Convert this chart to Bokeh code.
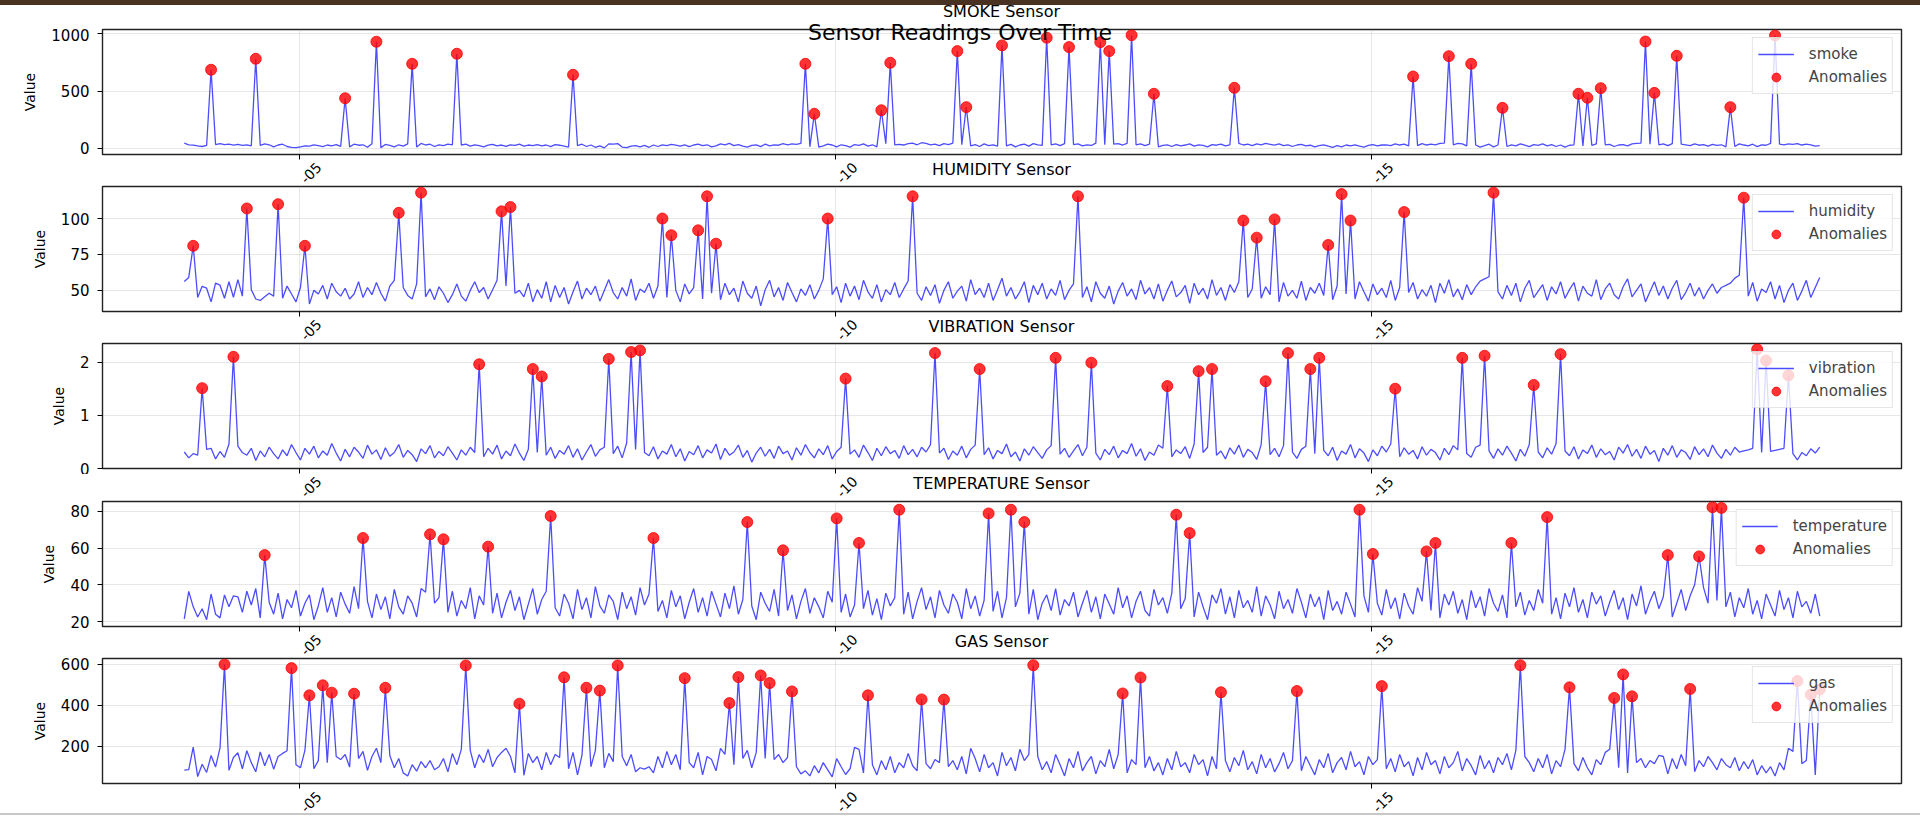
import pandas as pd
from bokeh.embed import file_html
from bokeh.layouts import column
from bokeh.models import ColumnDataSource, Div, FixedTicker, Legend, LegendItem, Range1d
from bokeh.plotting import figure
from bokeh.resources import INLINE

# hourly readings
START = "2024-01-03 22:15"
N_READINGS = 367

SMOKE = [
    45, 30, 27, 20, 15, 24, 686, 32, 40, 31, 35, 27, 33, 24, 30, 21, 782, 25, 38, 30,
    12, 28, 35, 15, 8, 5, 12, 20, 18, 30, 22, 14, 28, 20, 32, 16, 437, 12, 35, 26,
    30, 8, 40, 931, 5, 33, 25, 12, 30, 18, 38, 738, 10, 42, 28, 35, 15, 30, 22, 36,
    30, 826, 28, 35, 18, 30, 22, 12, 26, 34, 20, 28, 16, 30, 24, 35, 18, 28, 22, 32,
    20, 28, 14, 32, 26, 18, 10, 642, 22, 35, 15, 28, 8, 20, 3, 38, 36, 40, 10, 5,
    18, 22, 12, 25, 8, 28, 15, 30, 22, 34, 26, 18, 30, 14, 28, 36, 22, 30, 12, 20,
    38, 30, 42, 22, 32, 18, 10, 24, 30, 14, 36, 20, 30, 26, 40, 30, 38, 34, 42, 738,
    12, 301, 10, 20, 35, 28, 12, 30, 22, 10, 32, 25, 38, 18, 30, 12, 332, 40, 747, 30,
    34, 28, 40, 45, 30, 48, 42, 30, 36, 22, 40, 32, 45, 849, 30, 359, 20, 32, 15, 38,
    22, 30, 18, 899, 20, 34, 12, 28, 36, 18, 40, 30, 25, 966, 30, 38, 22, 40, 884, 32,
    38, 20, 30, 24, 44, 927, 30, 849, 35, 40, 28, 42, 988, 30, 38, 22, 35, 476, 12, 25,
    30, 15, 32, 20, 28, 38, 18, 30, 24, 12, 32, 26, 36, 20, 30, 528, 42, 28, 35, 22,
    38, 30, 42, 34, 26, 38, 22, 30, 15, 28, 34, 20, 26, 12, 22, 30, 18, 8, 22, 12,
    28, 20, 30, 18, 10, 24, 32, 20, 28, 30, 22, 38, 28, 35, 20, 627, 22, 40, 28, 35,
    30, 42, 45, 805, 30, 42, 38, 20, 738, 28, 10, 22, 35, 12, 28, 353, 15, 30, 20, 38,
    26, 14, 32, 25, 38, 20, 32, 15, 28, 10, 26, 30, 476, 20, 441, 25, 38, 525, 30, 34,
    15, 28, 32, 20, 38, 42, 45, 933, 35, 484, 30, 38, 22, 40, 808, 35, 30, 22, 38, 26,
    32, 18, 34, 25, 30, 12, 359, 15, 38, 28, 20, 35, 14, 30, 26, 42, 986, 35, 30, 38,
    34, 40, 28, 36, 30, 18, 22,
]

HUMIDITY = [
    56.2, 59.0, 81.0, 45.0, 52.8, 51.5, 42.0, 55.0, 53.6, 44.5, 56.0, 45.2, 57.5, 46.0, 107.0, 50.5, 44.0, 43.0, 45.5, 48.0,
    46.0, 110.0, 44.5, 53.0, 47.5, 42.0, 52.0, 81.0, 40.5, 50.0, 47.5, 53.5, 44.0, 55.0, 49.0, 46.0, 51.5, 44.0, 47.5, 56.0,
    45.0, 52.0, 47.0, 55.5, 48.0, 42.5, 53.0, 57.0, 104.0, 52.0, 46.5, 44.0, 54.5, 118.0, 45.5, 51.0, 43.5, 52.5, 48.0, 41.5,
    47.0, 54.5, 46.0, 42.5, 50.0, 56.0, 48.5, 52.0, 44.0, 50.5, 57.0, 105.0, 53.0, 108.0, 48.0, 50.0, 45.5, 55.0, 42.0, 50.5,
    44.5, 56.0, 42.0, 53.5, 45.0, 52.0, 40.5, 49.0, 56.5, 44.0, 51.5, 47.0, 53.0, 42.5, 50.0, 57.5, 48.5, 44.0, 52.0, 46.0,
    58.0, 43.0, 51.0, 48.5, 55.0, 44.5, 53.0, 100.0, 45.0, 88.4, 50.0, 42.0, 54.5, 47.5, 52.0, 91.8, 44.0, 115.5, 48.0, 82.5,
    43.5, 55.0, 47.0, 51.5, 42.0, 56.5, 48.0, 44.5, 53.0, 39.2, 50.5, 57.0, 45.5, 52.0, 43.0, 55.5, 48.5, 42.0, 51.0, 46.5,
    54.0, 44.0, 50.0, 58.0, 100.0, 47.0, 52.5, 41.5, 55.0, 46.0, 53.0, 43.5, 57.0, 49.0, 44.5, 54.0, 42.0, 50.5, 47.0, 55.5,
    45.0, 51.0, 56.5, 115.5, 48.0, 43.0, 52.5, 46.5, 54.0, 41.0, 50.0, 56.0, 44.5, 49.5, 53.0, 42.5, 57.5, 47.0, 51.5, 45.0,
    55.0, 43.0, 50.5, 58.5, 46.0, 52.0, 44.0, 49.0, 56.0, 41.5, 53.5, 47.0, 55.0, 44.0, 51.0, 46.5, 57.0, 43.5, 50.0, 54.5,
    115.5, 45.0, 52.5, 42.0, 56.0, 48.0, 44.5, 53.0, 40.5, 49.5, 55.5, 46.0, 51.0, 43.5, 57.0, 47.5, 52.0, 44.0, 54.5, 42.5,
    50.0, 56.5, 45.5, 48.5, 53.5, 41.0, 55.0, 47.0, 51.5, 44.0, 57.5, 46.5, 52.0, 43.0, 54.0, 48.5, 56.0, 98.6, 45.0, 51.0,
    86.7, 44.5, 52.5, 47.0, 99.4, 42.0, 55.5, 46.0, 50.0, 44.5, 56.5, 43.0, 52.0, 48.0, 55.0, 46.5, 81.6, 43.5, 53.0, 117.0,
    47.5, 98.6, 44.0, 56.0, 49.0, 42.5, 54.5, 47.0, 51.5, 45.0, 57.0, 43.0, 52.0, 104.5, 48.5, 55.5, 44.0, 50.5, 46.0, 53.5,
    41.5, 55.0, 48.0, 57.5, 45.5, 51.0, 43.5, 54.0, 47.0, 52.5, 56.5, 58.0, 59.5, 118.0, 49.0, 44.0, 53.5, 46.5, 55.0, 42.0,
    51.5, 57.0, 45.0, 49.5, 54.0, 43.0, 52.5, 47.5, 56.0, 44.5, 50.5, 55.5, 42.5, 53.0, 48.0, 46.0, 57.5, 43.5, 51.0, 55.0,
    47.0, 44.0, 52.5, 58.0, 45.5, 50.0, 54.5, 42.0, 49.0, 56.0, 46.5, 53.0, 44.0, 51.5, 57.0, 43.5, 48.5, 55.0, 46.0, 52.0,
    44.0, 50.0, 54.5, 48.0, 52.0, 53.5, 55.0, 58.5, 60.5, 114.5, 46.0, 55.5, 42.5, 51.0, 48.5, 56.0, 44.0, 53.5, 41.5, 50.0,
    55.0, 43.0, 49.5, 57.0, 45.0, 52.0, 59.0,
]

VIBRATION = [
    0.31, 0.20, 0.28, 0.25, 1.51, 0.36, 0.38, 0.18, 0.32, 0.21, 0.46, 2.10, 0.42, 0.30, 0.25, 0.38, 0.15, 0.33, 0.22, 0.40,
    0.28, 0.18, 0.35, 0.24, 0.45, 0.30, 0.16, 0.38, 0.27, 0.42, 0.20, 0.33, 0.25, 0.47, 0.29, 0.14, 0.36, 0.22, 0.40, 0.31,
    0.19, 0.44, 0.27, 0.35, 0.17, 0.39, 0.23, 0.30, 0.45, 0.21, 0.34, 0.26, 0.13, 0.37, 0.28, 0.43, 0.20, 0.32, 0.24, 0.41,
    0.29, 0.16, 0.35, 0.25, 0.40, 0.30, 1.96, 0.22, 0.38, 0.27, 0.44, 0.18, 0.33, 0.24, 0.46, 0.29, 0.15, 0.36, 1.87, 0.30,
    1.73, 0.25, 0.40, 0.19, 0.34, 0.27, 0.43, 0.21, 0.37, 0.16, 0.31, 0.45, 0.23, 0.35, 0.40, 2.06, 0.28, 0.42, 0.20, 0.48,
    2.19, 0.36, 2.22, 0.30, 0.24, 0.41, 0.18, 0.33, 0.27, 0.45, 0.22, 0.37, 0.14, 0.32, 0.26, 0.43, 0.20, 0.35, 0.29, 0.46,
    0.17, 0.38, 0.25, 0.31, 0.44, 0.21, 0.34, 0.12, 0.29, 0.40, 0.23, 0.36, 0.19, 0.42, 0.28, 0.33, 0.16, 0.39, 0.25, 0.45,
    0.30, 0.20, 0.37, 0.26, 0.43, 0.18, 0.32, 0.40, 1.69, 0.27, 0.35, 0.21, 0.44, 0.30, 0.15, 0.38, 0.24, 0.41, 0.28, 0.34,
    0.19, 0.43, 0.26, 0.36, 0.22, 0.40, 0.31, 0.45, 2.17, 0.29, 0.38, 0.17, 0.33, 0.25, 0.42, 0.20, 0.36, 0.44, 1.87, 0.26,
    0.39, 0.18, 0.34, 0.28, 0.46, 0.22, 0.31, 0.14, 0.37, 0.25, 0.41, 0.30, 0.19, 0.35, 0.43, 2.08, 0.27, 0.38, 0.21, 0.33,
    0.45, 0.24, 0.40, 1.99, 0.29, 0.16, 0.36, 0.26, 0.42, 0.20, 0.34, 0.28, 0.47, 0.23, 0.37, 0.15, 0.31, 0.25, 0.44, 0.38,
    1.55, 0.22, 0.35, 0.28, 0.41, 0.19, 0.46, 1.83, 0.30, 0.40, 1.87, 0.25, 0.33, 0.18, 0.39, 0.27, 0.44, 0.21, 0.36, 0.30,
    0.17, 0.45, 1.64, 0.26, 0.38, 0.22, 0.43, 2.17, 0.31, 0.19, 0.36, 0.42, 1.87, 0.28, 2.08, 0.34, 0.24, 0.40, 0.15, 0.33,
    0.27, 0.45, 0.20, 0.37, 0.29, 0.13, 0.35, 0.24, 0.42, 0.31, 0.46, 1.50, 0.22, 0.39, 0.27, 0.34, 0.18, 0.41, 0.25, 0.36,
    0.30, 0.16, 0.38, 0.26, 0.43, 0.35, 2.08, 0.28, 0.21, 0.40, 0.44, 2.12, 0.33, 0.19, 0.37, 0.25, 0.42, 0.29, 0.14, 0.36,
    0.23, 0.45, 1.57, 0.31, 0.20, 0.39, 0.27, 0.47, 2.15, 0.33, 0.24, 0.41, 0.18, 0.35, 0.28, 0.44, 0.21, 0.37, 0.26, 0.32,
    0.16, 0.40, 0.29, 0.45, 0.23, 0.36, 0.19, 0.42, 0.27, 0.34, 0.13, 0.38, 0.25, 0.43, 0.21, 0.35, 0.30, 0.17, 0.41, 0.26,
    0.37, 0.22, 0.44, 0.29, 0.19, 0.36, 0.25, 0.40, 0.31, 0.33, 0.35, 0.38, 2.24, 0.30, 2.03, 0.32, 0.34, 0.36, 0.38, 1.75,
    0.28, 0.16, 0.30, 0.24, 0.37, 0.29, 0.40,
]

TEMPERATURE = [
    21.5, 36.4, 28.0, 22.5, 27.0, 21.0, 35.0, 24.0, 22.0, 34.5, 28.0, 34.0, 33.5, 25.0, 36.5, 29.0, 38.0, 22.0, 56.2, 30.5,
    24.0, 35.5, 21.5, 32.0, 27.5, 37.0, 23.0, 30.0, 34.5, 21.0, 28.5, 38.5, 25.0, 33.0, 22.5, 36.0, 29.5, 24.5, 39.0, 27.0,
    65.5, 31.0, 22.0, 35.0, 26.5, 33.5, 21.5, 37.5, 28.0, 24.0, 34.0, 30.0, 22.5, 38.0, 36.0, 67.5, 30.0, 33.0, 64.8, 25.0,
    36.5, 23.0, 31.5, 27.0, 38.5, 21.5, 34.0, 29.0, 60.8, 24.5, 35.5, 22.0, 30.5, 37.0, 26.0, 33.5, 21.0, 29.5, 38.0, 24.0,
    32.0, 36.5, 77.5, 27.5, 23.0, 35.0, 30.0, 21.5, 37.5, 26.5, 33.0, 22.0, 39.0, 28.5, 24.5, 34.5, 31.0, 21.0, 36.0, 27.0,
    33.5, 23.5, 38.5, 29.0, 35.0, 65.5, 25.5, 31.5, 22.0, 37.0, 28.0, 34.0, 21.5, 30.5, 38.0, 25.0, 33.0, 23.0, 36.5, 29.5,
    22.5, 35.5, 27.0, 39.5, 24.0, 32.0, 74.2, 28.5, 21.0, 36.0, 30.0, 25.5, 37.5, 23.0, 58.8, 26.0, 34.5, 21.5, 31.0, 38.0,
    24.5, 33.0, 28.0, 22.0, 36.5, 30.5, 76.2, 25.0, 35.0, 22.5, 29.0, 62.8, 27.0, 37.0, 23.5, 32.5, 21.0, 35.5, 28.5, 33.0,
    80.9, 24.0, 36.0, 21.5, 31.0, 38.5, 26.5, 33.5, 22.0, 37.0, 29.0, 24.5, 35.0, 30.5, 21.5, 38.0, 27.0, 34.0, 23.0, 31.5,
    78.9, 25.5, 36.5, 22.0, 33.0, 80.9, 28.0, 35.5, 74.2, 24.0, 37.5, 21.0, 30.0, 34.5, 26.0, 38.0, 23.5, 32.0, 28.5, 36.0,
    22.5, 30.0, 37.0, 25.0, 33.5, 21.5, 35.0, 29.5, 24.0, 38.5, 27.5, 34.0, 22.0, 31.0, 36.5, 26.0, 23.0, 37.5, 29.0, 33.0,
    24.5, 35.5, 78.2, 27.0, 32.5, 68.2, 22.5, 36.0, 28.0, 21.0, 34.5, 30.0, 38.0, 24.0, 33.5, 22.0, 37.0, 27.5, 31.5, 25.0,
    39.0, 23.0, 34.0, 29.0, 21.5, 36.5, 27.0, 32.0, 24.5, 38.0, 30.5, 22.0, 35.0, 28.0, 33.5, 21.0, 37.0, 26.0, 31.0, 24.0,
    36.0, 29.5, 22.5, 80.9, 34.0, 25.0, 56.8, 30.0, 23.5, 37.5, 27.0, 33.0, 21.5, 35.5, 28.5, 24.0, 38.5, 31.0, 58.2, 26.0,
    62.8, 22.0, 35.0, 29.0, 36.5, 24.5, 32.0, 21.0, 37.0, 27.5, 33.5, 23.0, 38.0, 30.0, 25.5, 34.5, 22.0, 62.8, 28.0, 36.0,
    23.5, 31.5, 26.0, 37.5, 30.0, 76.9, 24.0, 33.0, 21.5, 35.5, 28.0, 38.5, 25.0, 32.0, 22.0, 36.0, 29.5, 34.0, 23.0, 30.5,
    37.0, 26.5, 33.0, 21.0, 35.0, 28.5, 39.5, 24.0, 31.0, 36.5, 27.0, 33.5, 56.2, 22.5, 30.0, 37.5, 26.0, 34.0, 40.0, 55.5,
    38.5, 30.0, 82.3, 31.5, 81.9, 28.0, 36.0, 22.5, 33.0, 27.5, 38.0, 24.0, 31.5, 21.5, 35.0, 29.0, 23.0, 37.0, 26.5, 33.0,
    22.0, 36.5, 28.0, 31.0, 24.5, 35.0, 23.0,
]

GAS = [
    83, 86, 196, 52, 112, 72, 155, 98, 192, 600, 82, 145, 168, 90, 178, 120, 75, 172, 105, 160,
    88, 150, 165, 178, 582, 110, 95, 180, 449, 90, 130, 498, 120, 462, 150, 135, 160, 98, 457, 140,
    175, 82, 150, 190, 120, 486, 155, 95, 140, 70, 55, 110, 78, 125, 95, 130, 85, 100, 140, 75,
    165, 110, 185, 595, 180, 95, 160, 120, 185, 100, 145, 170, 190, 150, 70, 408, 58, 165, 120, 150,
    85, 170, 110, 160, 145, 537, 90, 170, 60, 155, 486, 100, 180, 472, 95, 165, 125, 595, 150, 105,
    160, 75, 95, 88, 100, 70, 150, 95, 175, 110, 160, 85, 533, 120, 95, 170, 60, 150, 135, 80,
    190, 160, 411, 110, 538, 140, 180, 95, 170, 546, 140, 509, 135, 160, 120, 145, 468, 100, 65, 80,
    55, 105, 70, 120, 85, 50, 140, 100, 62, 90, 195, 185, 70, 449, 110, 60, 130, 85, 150, 70,
    120, 95, 165, 105, 80, 429, 115, 90, 135, 120, 428, 100, 130, 85, 150, 65, 190, 140, 75, 160,
    95, 120, 55, 170, 105, 145, 80, 185, 130, 160, 596, 150, 85, 125, 70, 160, 110, 55, 140, 95,
    175, 80, 120, 150, 65, 130, 100, 185, 90, 160, 458, 70, 135, 110, 536, 95, 150, 80, 120, 60,
    140, 85, 175, 100, 120, 70, 160, 110, 135, 55, 150, 90, 464, 130, 75, 145, 105, 180, 85, 125,
    65, 160, 95, 140, 75, 115, 170, 90, 130, 470, 80, 150, 105, 60, 135, 95, 165, 70, 120, 145,
    85, 175, 100, 125, 60, 150, 110, 135, 494, 90, 140, 75, 160, 100, 125, 55, 145, 85, 170, 110,
    130, 65, 150, 95, 120, 175, 80, 140, 105, 60, 155, 90, 130, 70, 145, 110, 165, 85, 180, 596,
    150, 120, 75, 140, 95, 160, 65, 130, 100, 185, 488, 115, 80, 145, 95, 60, 135, 110, 170, 185,
    436, 95, 551, 70, 444, 120, 140, 95, 130, 115, 155, 150, 65, 140, 90, 160, 105, 480, 75, 130,
    100, 150, 120, 85, 140, 110, 95, 145, 80, 125, 90, 135, 60, 105, 70, 100, 55, 120, 85, 190,
    175, 519, 115, 130, 452, 60, 478,
]

# positions (reading index) flagged as anomalies
SMOKE_ANOM = [6, 16, 36, 43, 51, 61, 87, 139, 141, 156, 158, 173, 175, 183, 193, 198, 205, 207, 212, 217,
              235, 275, 283, 288, 295, 312, 314, 317, 327, 329, 334, 346, 356]
HUMIDITY_ANOM = [2, 14, 21, 27, 48, 53, 71, 73, 107, 109, 115, 117, 119, 144, 163, 200, 237, 240, 244, 256,
                 259, 261, 273, 293, 349]
VIBRATION_ANOM = [4, 11, 66, 78, 80, 95, 100, 102, 148, 168, 178, 195, 203, 220, 227, 230, 242, 247, 252, 254,
                  271, 286, 291, 302, 308, 352, 354, 359]
TEMPERATURE_ANOM = [18, 40, 55, 58, 68, 82, 105, 126, 134, 146, 151, 160, 180, 185, 188, 222, 225, 263, 266, 278,
                    280, 297, 305, 332, 339, 342, 344]
GAS_ANOM = [9, 24, 28, 31, 33, 38, 45, 63, 75, 85, 90, 93, 97, 112, 122, 124, 129, 131, 136, 153,
            165, 170, 190, 210, 214, 232, 249, 268, 299, 310, 320, 322, 324, 337, 361, 364, 366]

SENSORS = ["smoke", "humidity", "vibration", "temperature", "gas"]
VALUES = {"smoke": SMOKE, "humidity": HUMIDITY, "vibration": VIBRATION,
          "temperature": TEMPERATURE, "gas": GAS}
ANOMALIES = {"smoke": SMOKE_ANOM, "humidity": HUMIDITY_ANOM, "vibration": VIBRATION_ANOM,
             "temperature": TEMPERATURE_ANOM, "gas": GAS_ANOM}
Y_LIMITS = {"smoke": (-55, 1038), "humidity": (35.3, 122.3), "vibration": (0, 2.35),
            "temperature": (17.3, 85.4), "gas": (18, 629)}
Y_TICKS = {"smoke": [0, 500, 1000], "humidity": [50, 75, 100], "vibration": [0, 1, 2],
           "temperature": [20, 40, 60, 80], "gas": [200, 400, 600]}
X_TICK_DATES = ["2024-01-05", "2024-01-10", "2024-01-15"]
X_TICK_LABELS = ["-05", "-10", "-15"]
SUPTITLE = "Sensor Readings Over Time"

FONT = "DejaVu Sans"
WIDTH = 1920
LEFT, RIGHT = 102, 19
FRAME_W = WIDTH - LEFT - RIGHT
FRAME_H = 125
AXIS_B = 6                # room under each frame for the tick marks
GAPS = [25, 25, 26, 25]   # text strips between the panels


def ms(t):
    return pd.Timestamp(t).value / 1e6


times = pd.date_range(START, periods=N_READINGS, freq="h")
t0, t1 = ms(times[0]), ms(times[-1])
pad = 0.05 * (t1 - t0)
x_start, x_end = t0 - pad, t1 + pad
ms_per_px = (x_end - x_start) / FRAME_W
tick_ms = [ms(d) for d in X_TICK_DATES]


def span(cx, cy, text, size, rotate=None):
    turn = f" rotate({rotate}deg)" if rotate else ""
    return (f'<span style="position:absolute;left:{cx:.1f}px;top:{cy}px;'
            f'transform:translate(-50%,-50%){turn};font-size:{size}px;'
            f'line-height:1;white-space:nowrap;">{text}</span>')


def strip(height, title=None, title_y=0, ticks=False, tick_y=0, extra="", clip=True, **kw):
    # html strip holding the panel title and the rotated date labels
    parts = [extra]
    if ticks:
        for t, lab in zip(tick_ms, X_TICK_LABELS):
            cx = LEFT + (t - x_start) / ms_per_px + 12
            parts.append(span(cx, tick_y, lab, 14, rotate=-45))
    if title:
        parts.append(span(LEFT + FRAME_W / 2, title_y, title, 16))
    overflow = "hidden" if clip else "visible"
    html = (f'<div style="position:relative;overflow:{overflow};width:{WIDTH}px;height:{height}px;'
            f'font-family:\'{FONT}\';color:black;">' + "".join(parts) + "</div>")
    return Div(text=html, width=WIDTH, height=height, margin=0, **kw)


top_bar = ('<div style="position:absolute;left:0;top:0;width:100%;height:5px;background:#4a3223;"></div>'
           + span(960, 32.5, SUPTITLE, 22))
bottom_line = '<div style="position:absolute;left:0;top:24px;width:100%;height:2px;background:#c8c8c8;"></div>'

items = [strip(28, title="SMOKE Sensor", title_y=12, extra=top_bar, clip=False,
               styles={"z-index": "10", "overflow": "visible"})]
for k, name in enumerate(SENSORS):
    y0, y1 = Y_LIMITS[name]

    p = figure(width=WIDTH, height=1 + FRAME_H + AXIS_B, x_axis_type="datetime",
               x_range=Range1d(x_start, x_end), y_range=Range1d(y0, y1),
               output_backend="svg", toolbar_location=None, title=None,
               min_border_left=LEFT, min_border_right=RIGHT,
               min_border_top=1, min_border_bottom=AXIS_B)
    p.background_fill_color = "white"
    p.border_fill_color = "white"
    p.outline_line_color = "#222222"
    p.outline_line_width = 1.4

    xa = p.xaxis[0]
    xa.ticker = FixedTicker(ticks=tick_ms)
    xa.major_label_text_font_size = "0px"
    xa.major_label_text_color = None
    xa.major_label_standoff = 0
    xa.axis_line_color = None
    xa.major_tick_out = 5
    xa.major_tick_in = 0
    xa.minor_tick_line_color = None

    ya = p.yaxis[0]
    ya.ticker = FixedTicker(ticks=Y_TICKS[name])
    ya.axis_line_color = None
    ya.major_tick_out = 5
    ya.major_tick_in = 0
    ya.minor_tick_line_color = None
    ya.major_label_standoff = 8
    ya.major_label_text_font = FONT
    ya.major_label_text_font_size = "15px"
    ya.major_label_text_color = "black"
    ya.axis_label = "Value"
    ya.axis_label_standoff = 10
    ya.axis_label_text_font = FONT
    ya.axis_label_text_font_size = "14px"
    ya.axis_label_text_font_style = "normal"
    ya.axis_label_text_color = "black"

    p.grid.grid_line_color = "#b0b0b0"
    p.grid.grid_line_alpha = 0.3

    vals = VALUES[name]
    idx = ANOMALIES[name]
    src = ColumnDataSource(dict(t=times, v=vals))
    asrc = ColumnDataSource(dict(t=times[idx], v=[vals[i] for i in idx]))
    line = p.line("t", "v", source=src, line_color="blue", line_alpha=0.7, line_width=1.3)
    dots = p.scatter("t", "v", source=asrc, size=11, fill_color="red", line_color="red",
                     fill_alpha=0.8, line_alpha=0.8)

    legend = Legend(items=[LegendItem(label=name, renderers=[line]),
                           LegendItem(label="Anomalies", renderers=[dots])],
                    location="top_right", margin=8, padding=5, spacing=1,
                    glyph_width=36, glyph_height=22, label_height=22, label_standoff=15,
                    label_text_font=FONT, label_text_font_size="15px",
                    border_line_color="#cccccc", border_line_width=1,
                    background_fill_color="white", background_fill_alpha=0.8)
    p.add_layout(legend)

    items.append(p)
    if k < len(SENSORS) - 1:
        items.append(strip(GAPS[k], title=f"{SENSORS[k + 1].upper()} Sensor", title_y=10,
                           ticks=True, tick_y=12.5))
    else:
        items.append(strip(28, ticks=True, tick_y=12.5, extra=bottom_line))

layout = column(*items, spacing=0)
open("out.html", "w").write(file_html(layout, INLINE, title=SUPTITLE))
